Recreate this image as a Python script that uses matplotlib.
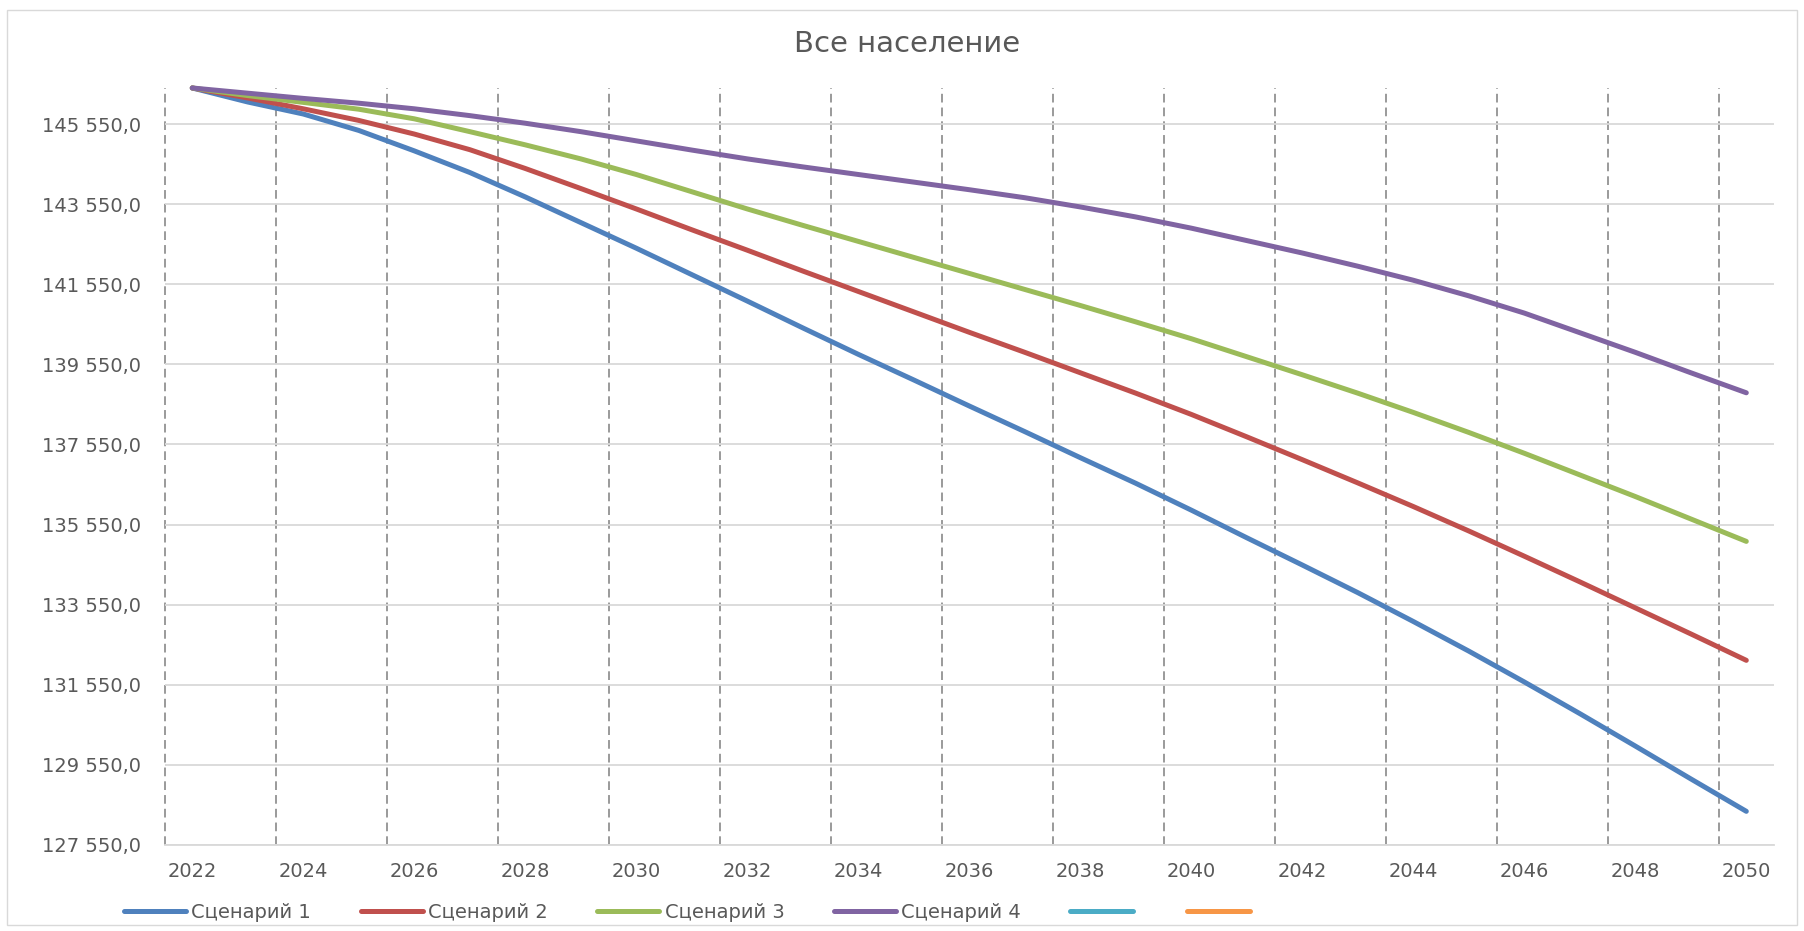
import matplotlib.pyplot as plt
from matplotlib.lines import Line2D
from matplotlib.patches import Rectangle
from matplotlib.ticker import FuncFormatter

years = list(range(2022, 2051))

scenario_1 = [146450, 146100, 145800, 145390, 144880, 144340, 143730, 143090, 142450,
              141790, 141130, 140460, 139800, 139160, 138510, 137870, 137220, 136580,
              135910, 135220, 134540, 133850, 133130, 132390, 131620, 130830, 130020,
              129200, 128390]
scenario_2 = [146450, 146200, 145930, 145640, 145300, 144910, 144440, 143940, 143430,
              142910, 142400, 141880, 141370, 140860, 140350, 139850, 139340, 138830,
              138300, 137740, 137170, 136590, 136000, 135390, 134760, 134120, 133470,
              132820, 132160]
scenario_3 = [146450, 146260, 146090, 145920, 145680, 145360, 145030, 144680, 144290,
              143860, 143430, 143020, 142620, 142220, 141820, 141420, 141020, 140610,
              140190, 139740, 139290, 138830, 138350, 137850, 137330, 136790, 136250,
              135690, 135130]
scenario_4 = [146450, 146320, 146190, 146070, 145930, 145760, 145570, 145360, 145130,
              144900, 144680, 144480, 144290, 144100, 143910, 143710, 143480, 143230,
              142950, 142640, 142330, 142000, 141650, 141260, 140830, 140340, 139850,
              139340, 138840]

series_names = ["Сценарий 1", "Сценарий 2", "Сценарий 3", "Сценарий 4", "", ""]
series_colors = ["#4F81BD", "#C0504D", "#9BBB59", "#8064A2", "#4BACC6", "#F79646"]

y_min = 127550
y_max = 146450
y_step = 2000

TEXT = "#595959"


def fmt_value(v, _pos=None):
    return f"{v:,.1f}".replace(",", " ").replace(".", ",")


def main():
    plt.rcParams["font.family"] = ["DejaVu Sans"]

    fig = plt.figure(figsize=(18.04, 9.31), dpi=100)
    ax = fig.add_axes([0.0912, 0.0924, 0.8922, 0.8131])

    idx = list(range(len(years)))
    all_series = [scenario_1, scenario_2, scenario_3, scenario_4]
    for values, name, color in zip(all_series, series_names, series_colors):
        ax.plot(idx, values, color=color, lw=3.6, label=name,
                solid_capstyle="round", solid_joinstyle="round", clip_on=False, zorder=3)

    ax.set_xlim(-0.5, len(years) - 0.5)
    ax.set_ylim(y_min, y_max)

    major = idx[::2]
    ax.set_xticks(major)
    ax.set_xticklabels([str(years[i]) for i in major])
    ax.set_xticks([i - 0.5 for i in major], minor=True)
    ax.set_yticks(list(range(y_min, int(y_max), y_step)))
    ax.yaxis.set_major_formatter(FuncFormatter(fmt_value))

    ax.tick_params(axis="both", which="both", length=0, labelsize=14, colors=TEXT)
    ax.tick_params(axis="x", pad=12)
    ax.tick_params(axis="y", pad=17)

    ax.grid(axis="y", which="major", color="#D9D9D9", lw=1.3)
    ax.grid(axis="x", which="minor", color="#7F7F7F", lw=1.1, linestyle=(0, (5.7, 3.3)))
    ax.grid(axis="x", which="major", visible=False)
    ax.set_axisbelow(True)
    for tick in ax.xaxis.get_minor_ticks():
        tick.gridline.set_clip_on(False)

    for side in ["top", "right", "left"]:
        ax.spines[side].set_visible(False)
    ax.spines["bottom"].set_color("#D9D9D9")
    ax.spines["bottom"].set_linewidth(1.3)

    fig.text(0.503, 1 - 44 / 931, "Все население", ha="center", va="center",
             fontsize=21, color=TEXT)

    handles = [Line2D([0], [0], color=c, lw=3.6, solid_capstyle="round") for c in series_colors]
    fig.legend(handles, series_names, loc="center left", bbox_to_anchor=(124 / 1804, 19 / 931),
               ncol=6, frameon=False, fontsize=14, labelcolor=TEXT, handlelength=3.2,
               handletextpad=0.26, columnspacing=2.55, borderpad=0, borderaxespad=0)

    fig.patches.append(Rectangle((7 / 1804, 6 / 931), 1790 / 1804, 915 / 931,
                                 transform=fig.transFigure, fill=False,
                                 edgecolor="#D9D9D9", lw=1))

    fig.savefig("out.png", dpi=100)
    plt.close(fig)


if __name__ == "__main__":
    main()
